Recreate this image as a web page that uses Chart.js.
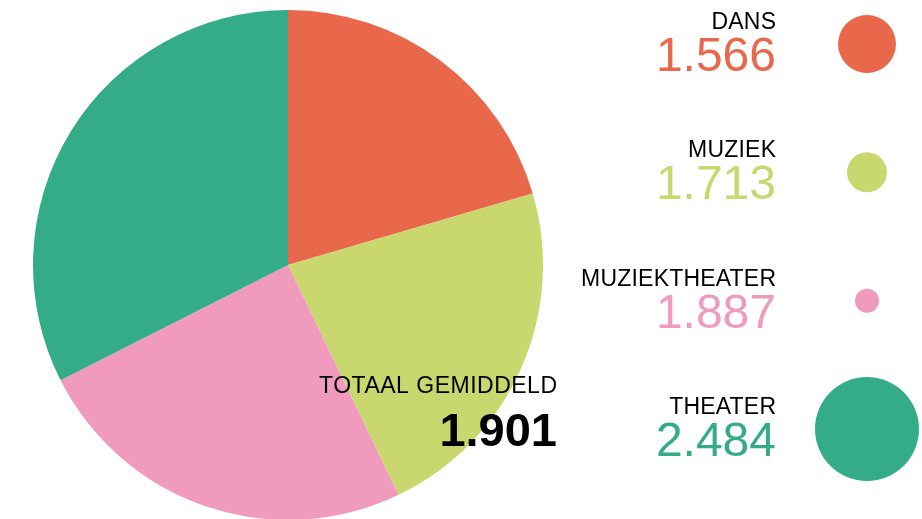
<!DOCTYPE html>
<html>
<head>
<meta charset="utf-8">
<script src="https://cdn.jsdelivr.net/npm/chart.js@4"></script>
<style>
  html, body { margin: 0; padding: 0; background: #fff; overflow: hidden; }
  #wrap { position: relative; width: 922px; height: 519px; overflow: hidden; }
  #pie { position: absolute; left: 0; top: 0; }
  #legenda { position: absolute; left: 560px; top: 0; }
</style>
</head>
<body>
<div id="wrap">
  <canvas id="pie" width="922" height="530"></canvas>
  <canvas id="legenda" width="362" height="519"></canvas>
</div>
<script>
const categorieen = ['DANS', 'MUZIEK', 'MUZIEKTHEATER', 'THEATER'];
const gemiddelden = [1566, 1713, 1887, 2484];
const bubbelStraal = [29, 20, 12, 52];
const kleuren = ['#e9684b', '#c8d86f', '#f09bbe', '#34ac88'];
const totaalGemiddeld = 1901;

const FONT = "'Liberation Sans', Arial, Helvetica, sans-serif";

// 1566 -> "1.566"
function fmt(n) {
  return String(n).replace(/\B(?=(\d{3})+(?!\d))/g, '.');
}

const totaalTekst = {
  id: 'totaalTekst',
  afterDraw(chart) {
    const arc = chart.getDatasetMeta(0).data[0];
    const ctx = chart.ctx;
    const x = arc.x + 269;
    ctx.save();
    ctx.textAlign = 'right';
    ctx.textBaseline = 'alphabetic';
    ctx.fillStyle = '#000';
    ctx.font = '23px ' + FONT;
    ctx.letterSpacing = '0.5px';
    ctx.fillText('TOTAAL GEMIDDELD', x + 0.5, arc.y + 128);
    ctx.letterSpacing = '0px';
    ctx.font = 'bold 47px ' + FONT;
    ctx.fillText(fmt(totaalGemiddeld), x, arc.y + 181);
    ctx.restore();
  }
};

new Chart(document.getElementById('pie').getContext('2d'), {
  type: 'pie',
  data: {
    labels: categorieen,
    datasets: [{
      data: gemiddelden,
      backgroundColor: kleuren,
      borderWidth: 0,
      hoverOffset: 0
    }]
  },
  options: {
    responsive: false,
    animation: false,
    layout: { autoPadding: false, padding: { left: 33, top: 10, right: 379, bottom: 10 } },
    plugins: { legend: { display: false }, tooltip: { enabled: false } }
  },
  plugins: [totaalTekst]
});

// labels and values to the left of each bubble
const legendaTekst = {
  id: 'legendaTekst',
  afterDatasetsDraw(chart) {
    const ctx = chart.ctx;
    const xs = chart.scales.x;
    const ys = chart.scales.y;
    const x = xs.getPixelForValue(0);
    ctx.save();
    ctx.textAlign = 'right';
    ctx.textBaseline = 'alphabetic';
    categorieen.forEach((c, i) => {
      const y = ys.getPixelForValue(i);
      ctx.fillStyle = '#000';
      ctx.font = '23px ' + FONT;
      ctx.letterSpacing = '0.2px';
      ctx.fillText(c, x + 0.2, y - 15);
      ctx.fillStyle = kleuren[i];
      ctx.font = '48px ' + FONT;
      ctx.letterSpacing = '0px';
      ctx.fillText(fmt(gemiddelden[i]), x, y + 27);
    });
    ctx.restore();
  }
};

new Chart(document.getElementById('legenda').getContext('2d'), {
  type: 'bubble',
  data: {
    datasets: [{
      data: categorieen.map((c, i) => ({ x: 1, y: c, r: bubbelStraal[i] })),
      backgroundColor: kleuren,
      borderWidth: 0,
      hoverRadius: 0,
      clip: false
    }]
  },
  options: {
    responsive: false,
    animation: false,
    layout: { autoPadding: false, padding: { left: 216, right: 55, top: 44, bottom: 90 } },
    scales: {
      x: { type: 'linear', min: 0, max: 1, display: false },
      y: { type: 'category', labels: categorieen, offset: false, display: false }
    },
    plugins: { legend: { display: false }, tooltip: { enabled: false } }
  },
  plugins: [legendaTekst]
});
</script>
</body>
</html>
